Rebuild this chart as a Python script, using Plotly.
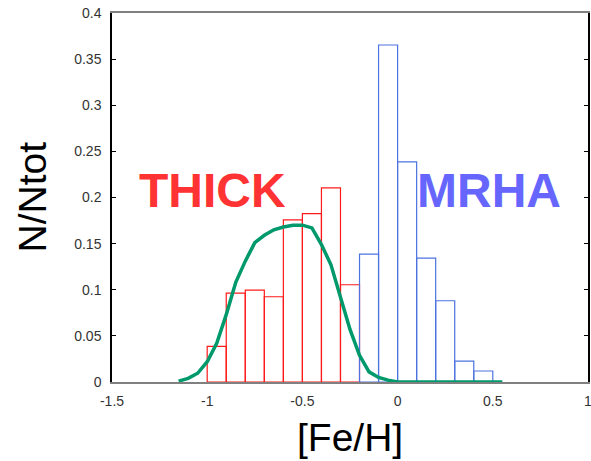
import plotly.graph_objects as go

# [Fe/H] histogram bins (left edges), width 0.1
thick_bins = [-1.0, -0.9, -0.8, -0.7, -0.6, -0.5, -0.4, -0.3]
thick_frac = [0.0387, 0.0964, 0.0996, 0.0924, 0.1758, 0.1826, 0.2105, 0.1054]

mrha_bins = [-0.2, -0.1, 0.0, 0.1, 0.2, 0.3, 0.4]
mrha_frac = [0.1386, 0.3653, 0.2386, 0.1343, 0.0881, 0.0227, 0.0119]

# model curve
curve_feh = [-1.15, -1.10, -1.05, -1.00, -0.95, -0.90, -0.85, -0.80, -0.75,
             -0.70, -0.65, -0.60, -0.55, -0.50, -0.45, -0.40, -0.35, -0.30,
             -0.25, -0.20, -0.15, -0.10, -0.05, 0.00, 0.10, 0.20, 0.30,
             0.40, 0.50, 0.55]
curve_frac = [0.001, 0.004, 0.0095, 0.022, 0.042, 0.073, 0.108, 0.131, 0.151,
              0.159, 0.165, 0.168, 0.170, 0.170, 0.167, 0.149, 0.127, 0.093,
              0.057, 0.029, 0.011, 0.005, 0.002, 0.0, 0.0, 0.0, 0.0,
              0.0, 0.0, 0.0]

BW = 0.1

fig = go.Figure()
fig.add_trace(go.Bar(
    x=[b + BW / 2 for b in thick_bins], y=thick_frac, width=BW,
    marker={'color': 'rgba(255,255,255,0)',
            'line': {'color': '#ff1a1a', 'width': 1.2}},
    showlegend=False))
fig.add_trace(go.Bar(
    x=[b + BW / 2 for b in mrha_bins], y=mrha_frac, width=BW,
    marker={'color': 'rgba(255,255,255,0)',
            'line': {'color': '#4d73e0', 'width': 1.2}},
    showlegend=False))
fig.add_trace(go.Scatter(
    x=curve_feh, y=curve_frac, mode='lines',
    line={'color': '#00996b', 'width': 3.5},
    showlegend=False))

fig.add_annotation(x=-0.97, y=0.208, text='<b>THICK</b>', showarrow=False,
                   font={'family': 'Liberation Sans', 'size': 48,
                         'color': '#ff3333'})
fig.add_annotation(x=0.48, y=0.208, text='<b>MRHA</b>', showarrow=False,
                   font={'family': 'Liberation Sans', 'size': 48,
                         'color': '#6666ff'})

# axis titles
fig.add_annotation(xref='paper', yref='paper', x=0.5, y=0, yshift=-55,
                   xanchor='center', yanchor='middle', text='[Fe/H]',
                   showarrow=False,
                   font={'family': 'Liberation Sans', 'size': 39,
                         'color': 'black'})
fig.add_annotation(xref='paper', yref='paper', x=0, y=0.5, xshift=-80,
                   xanchor='center', yanchor='middle', text='N/Ntot',
                   textangle=-90, showarrow=False,
                   font={'family': 'Liberation Sans', 'size': 39,
                         'color': 'black'})

fig.update_layout(
    width=591, height=461,
    margin={'l': 112, 'r': 3, 't': 13, 'b': 79},
    paper_bgcolor='white', plot_bgcolor='white',
    barmode='overlay',
    font={'family': 'Liberation Sans', 'color': '#333333'},
    xaxis={'range': [-1.5, 1], 'tickvals': [-1.5, -1, -0.5, 0, 0.5, 1],
           'ticktext': ['-1.5', '-1', '-0.5', '0', '0.5', '1'],
           'showgrid': False, 'zeroline': False, 'automargin': False,
           'showline': True, 'linecolor': '#808080', 'linewidth': 2,
           'mirror': True, 'ticks': '', 'tickfont': {'size': 14},
           'ticklabelstandoff': 5, 'ticklabeloverflow': 'allow'},
    yaxis={'range': [0, 0.4],
           'tickvals': [0, 0.05, 0.1, 0.15, 0.2, 0.25, 0.3, 0.35, 0.4],
           'ticktext': ['0', '0.05', '0.1', '0.15', '0.2', '0.25', '0.3',
                        '0.35', '0.4'],
           'showgrid': False, 'zeroline': False, 'automargin': False,
           'showline': True, 'linecolor': 'black', 'linewidth': 1.5,
           'mirror': 'ticks', 'ticks': 'inside', 'ticklen': 4,
           'tickcolor': 'black', 'tickfont': {'size': 14},
           'ticklabelstandoff': 6, 'ticklabeloverflow': 'allow'},
)

# drop the page's default body margin so the figure fills the window
fig.write_html("out.html", config={'displayModeBar': False},
               post_script="document.body.style.margin='0';"
                           "document.body.style.overflow='hidden';")
